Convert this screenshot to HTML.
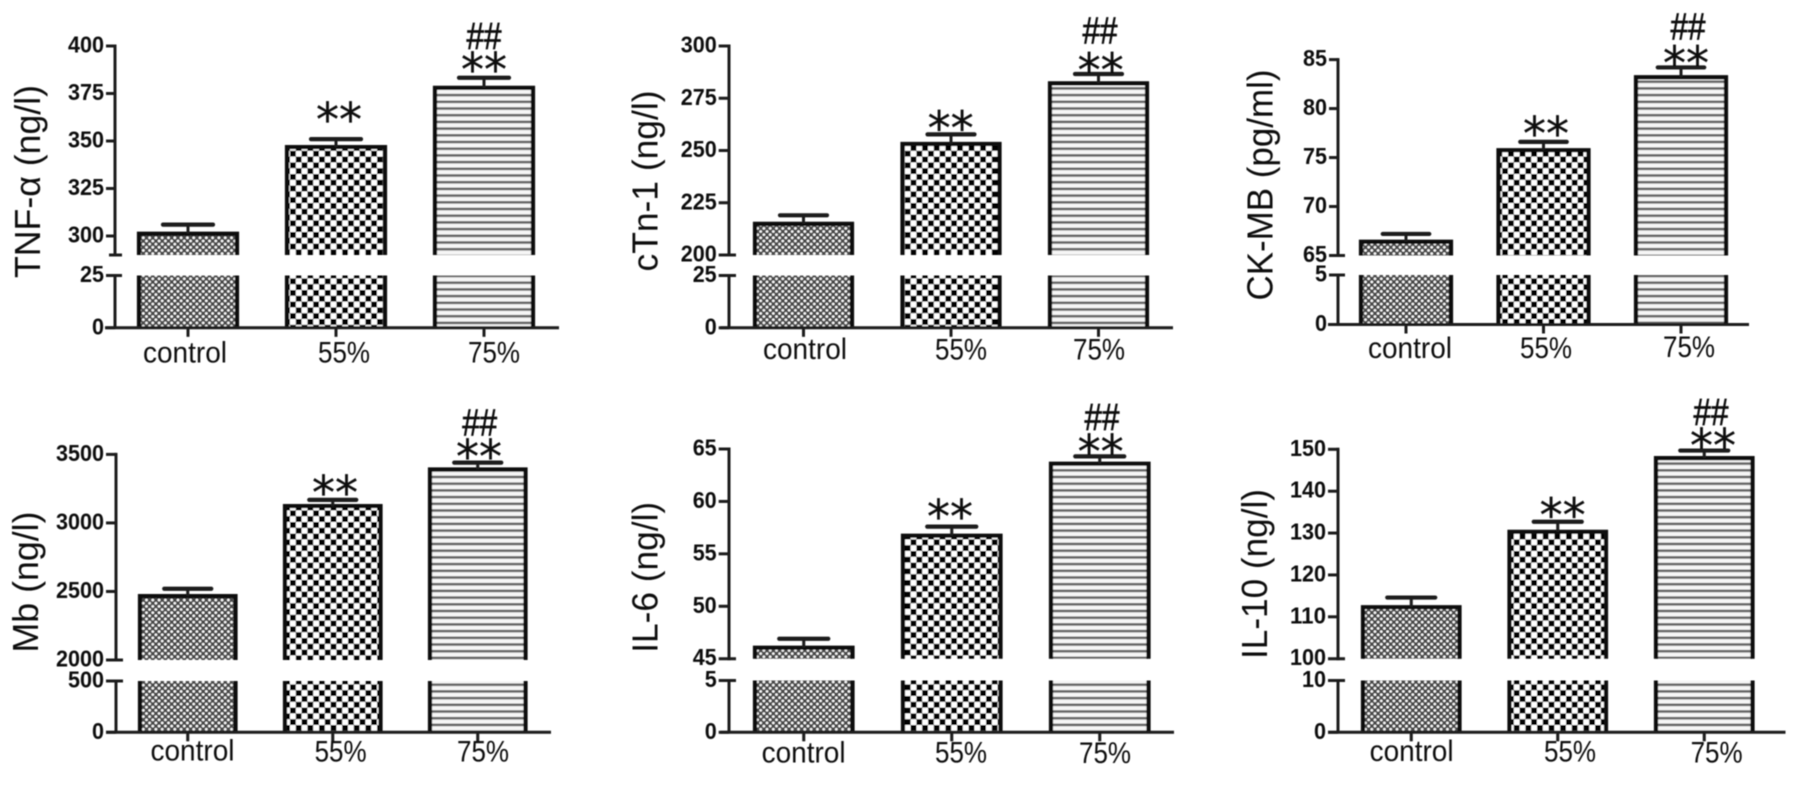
<!DOCTYPE html>
<html lang="en">
<head>
<meta charset="utf-8">
<title>Six broken-axis bar charts</title>
<style>
html,body{margin:0;padding:0;background:#fff;width:1795px;height:805px;overflow:hidden}
svg{display:block}
text{fill:#111}
.tick{font:bold 23px "Liberation Sans",sans-serif;text-anchor:end}
.cat{font:30px "Liberation Sans",sans-serif;text-anchor:middle}
.title{font:36px "Liberation Sans","DejaVu Sans",sans-serif;text-anchor:middle}
.star{font:46px "DejaVu Sans",sans-serif;text-anchor:middle;stroke:#111;stroke-width:.3}
.hash{font:38px "Liberation Sans",sans-serif;text-anchor:middle;stroke:#111;stroke-width:.7}
</style>
</head>
<body>
<svg id="figure" xmlns="http://www.w3.org/2000/svg" width="1795" height="805" viewBox="0 0 1795 805">
  <defs>
    <filter id="soft" x="-2%" y="-2%" width="104%" height="104%"><feGaussianBlur stdDeviation="0.45"/></filter>
    <pattern id="fine-check" patternUnits="userSpaceOnUse" width="6.3" height="6.3">
      <rect width="6.3" height="6.3" fill="#4a4a4a"/>
      <circle cx="1.57" cy="1.57" r="1.35" fill="#fff"/>
      <circle cx="4.72" cy="4.72" r="1.35" fill="#fff"/>
    </pattern>
    <pattern id="coarse-check" patternUnits="userSpaceOnUse" width="11.6" height="11.6">
      <rect width="11.6" height="11.6" fill="#fff"/>
      <rect x="0" y="0" width="5.8" height="5.8" fill="#000"/>
      <rect x="5.8" y="5.8" width="5.8" height="5.8" fill="#000"/>
    </pattern>
    <pattern id="stripes" patternUnits="userSpaceOnUse" width="10" height="6.7">
      <rect width="10" height="6.7" fill="#f6f6f6"/>
      <rect y="0" width="10" height="2.6" fill="#666"/>
    </pattern>
  </defs>
  <rect width="1795" height="805" fill="#fff"/>
  <g id="charts" filter="url(#soft)"></g>
</svg>
<script>
const categories = ['control', '55%', '75%'];
const starLabels = ['', '**', '**'];
const hashLabels = ['', '', '##'];

const tnfValues = [301.2, 346.8, 378];
const tnfErrorTops = [306, 351, 383.3];
const tnfUpperTicks = [300, 325, 350, 375, 400];
const tnfLowerTicks = [0, 25];
const tnfBreakValue = 290;

const ctnValues = [214.9, 253.1, 282.1];
const ctnErrorTops = [219, 257.7, 286.6];
const ctnUpperTicks = [200, 225, 250, 275, 300];
const ctnLowerTicks = [0, 25];
const ctnBreakValue = 200;

const ckValues = [66.4, 75.75, 83.2];
const ckErrorTops = [67.2, 76.6, 84.2];
const ckUpperTicks = [65, 70, 75, 80, 85];
const ckLowerTicks = [0, 5];
const ckBreakValue = 65;

const mbValues = [2466, 3123, 3390];
const mbErrorTops = [2520, 3168, 3440];
const mbUpperTicks = [2000, 2500, 3000, 3500];
const mbLowerTicks = [0, 500];
const mbBreakValue = 2000;

const il6Values = [46.05, 56.73, 63.6];
const il6ErrorTops = [46.9, 57.6, 64.3];
const il6UpperTicks = [45, 50, 55, 60, 65];
const il6LowerTicks = [0, 5];
const il6BreakValue = 45;

const il10Values = [112.3, 130.3, 147.9];
const il10ErrorTops = [114.6, 132.7, 149.7];
const il10UpperTicks = [100, 110, 120, 130, 140, 150];
const il10LowerTicks = [0, 10];
const il10BreakValue = 100;

const panels = [
  {key:'tnf', title:'TNF-α (ng/l)', values:tnfValues, tops:tnfErrorTops, upper:tnfUpperTicks, lower:tnfLowerTicks, brk:tnfBreakValue,
   box:{axisX:115,yTop:46,yBreak:255,yLowTop:275.5,yZero:327.8,xStart:105,xEnd:559,barLeft:137,barStep:148,barW:102,labelRight:104,
        labelX:[185,344,494],labelBase:[362.5,362.5,362.5],titleX:40,titleY:181.5,titleLen:193,capW:54,
        starX:[0,339,484],starGap:[0,26.6,15.2],hashX:[0,0,484],hashGap:[0,0,41.8]}},
  {key:'ctn', title:'cTn-1  (ng/l)', values:ctnValues, tops:ctnErrorTops, upper:ctnUpperTicks, lower:ctnLowerTicks, brk:ctnBreakValue,
   box:{axisX:729,yTop:46,yBreak:255,yLowTop:275.5,yZero:327.8,xStart:720.5,xEnd:1173,barLeft:753,barStep:147.5,barW:101,labelRight:716.7,
        labelX:[805,961,1099],labelBase:[359,359.7,359.7],titleX:657.4,titleY:181,titleLen:181,capW:51,
        starX:[0,950.6,1100.6],starGap:[0,13.5,11.1],hashX:[0,0,1100],hashGap:[0,0,43.5]}},
  {key:'ck', title:'CK-MB (pg/ml)', values:ckValues, tops:ckErrorTops, upper:ckUpperTicks, lower:ckLowerTicks, brk:ckBreakValue,
   box:{axisX:1338,yTop:59.6,yBreak:255.5,yLowTop:275,yZero:324.5,xStart:1328,xEnd:1749,barLeft:1359,barStep:137.5,barW:94,labelRight:1327,
        labelX:[1410,1546,1689],labelBase:[358,358,357],titleX:1272.7,titleY:185,titleLen:231,capW:50.5,
        starX:[0,1546,1686],starGap:[0,15.3,11.6],hashX:[0,0,1688],hashGap:[0,0,41]}},
  {key:'mb', title:'Mb  (ng/l)', values:mbValues, tops:mbErrorTops, upper:mbUpperTicks, lower:mbLowerTicks, brk:mbBreakValue,
   box:{axisX:116,yTop:454.4,yBreak:660,yLowTop:681,yZero:732.3,xStart:106,xEnd:551,barLeft:138,barStep:145,barW:99.5,labelRight:104,
        labelX:[192.5,340.6,483],labelBase:[760.6,761.5,761.5],titleX:38,titleY:582,titleLen:141,capW:51,
        starX:[0,335,479],starGap:[0,14.6,13.2],hashX:[0,0,479.7],hashGap:[0,0,40.3]}},
  {key:'il6', title:'IL-6  (ng/l)', values:il6Values, tops:il6ErrorTops, upper:il6UpperTicks, lower:il6LowerTicks, brk:il6BreakValue,
   box:{axisX:729,yTop:449,yBreak:658.7,yLowTop:680.5,yZero:732.3,xStart:720.5,xEnd:1174,barLeft:753,barStep:148,barW:101.5,labelRight:716.7,
        labelX:[803.6,961,1105],labelBase:[762.3,762.3,763.2],titleX:657.4,titleY:577.3,titleLen:151,capW:53,
        starX:[0,950,1100.6],starGap:[0,17,11.8],hashX:[0,0,1102],hashGap:[0,0,39.5]}},
  {key:'il10', title:'IL-10 (ng/l)', values:il10Values, tops:il10ErrorTops, upper:il10UpperTicks, lower:il10LowerTicks, brk:il10BreakValue,
   box:{axisX:1338,yTop:449.3,yBreak:658.7,yLowTop:680.5,yZero:732.3,xStart:1328,xEnd:1785.5,barLeft:1361,barStep:146.5,barW:100.5,labelRight:1326,
        labelX:[1411.6,1570,1716.6],labelBase:[761,761.5,762.3],titleX:1267,titleY:574,titleLen:170,capW:52,
        starX:[0,1562.6,1713],starGap:[0,13.7,12],hashX:[0,0,1711],hashGap:[0,0,38.6]}}
];

const fills = ['url(#fine-check)', 'url(#coarse-check)', 'url(#stripes)'];
const INK = '#1a1a1a';
const NS = 'http://www.w3.org/2000/svg';
const root = document.getElementById('charts');

function make(parent, tag, attrs, text) {
  const el = document.createElementNS(NS, tag);
  for (const k in attrs) el.setAttribute(k, attrs[k]);
  if (text !== undefined) el.textContent = text;
  parent.appendChild(el);
  return el;
}
function scale(d0, d1, r0, r1) {
  return v => r0 + (v - d0) * (r1 - r0) / (d1 - d0);
}
function line(parent, x1, y1, x2, y2, w, cap) {
  return make(parent, 'line', {x1, y1, x2, y2, stroke: INK, 'stroke-width': w, 'stroke-linecap': cap || 'butt'});
}

panels.forEach(p => {
  const b = p.box;
  const yUp = scale(p.brk, p.upper[p.upper.length - 1], b.yBreak, b.yTop);
  const yLow = scale(0, p.lower[p.lower.length - 1], b.yZero, b.yLowTop);
  const barX = i => b.barLeft + i * b.barStep;
  const barC = i => barX(i) + b.barW / 2;

  const g = make(root, 'g', {});
  
  

  const title = make(g, 'text', {class: 'title', x: b.titleX, y: b.titleY, transform: `rotate(-90 ${b.titleX} ${b.titleY})`, textLength: b.titleLen, lengthAdjust: 'spacingAndGlyphs', 'xml:space': 'preserve'}, p.title);
  
  

  // bars
  p.values.forEach((v, i) => {
    const x0 = barX(i) + 2, x1 = barX(i) + b.barW - 2, yt = yUp(v), cx = barC(i);
    const bar = make(g, 'g', {});
    
    
    make(bar, 'rect', {x: x0, y: yt, width: x1 - x0, height: b.yBreak - yt, fill: fills[i]});
    make(bar, 'rect', {x: x0, y: b.yLowTop, width: x1 - x0, height: b.yZero - b.yLowTop, fill: fills[i]});
    make(bar, 'path', {d: `M${x0} ${b.yBreak}V${yt}H${x1}V${b.yBreak}`, fill: 'none', stroke: '#0c0c0c', 'stroke-width': 4.2});
    make(bar, 'path', {d: `M${x0} ${b.yLowTop}V${b.yZero}M${x1} ${b.yLowTop}V${b.yZero}`, fill: 'none', stroke: '#0c0c0c', 'stroke-width': 4.2});

    const err = make(g, 'g', {});
    
    
    const capY = yUp(p.tops[i]);
    line(err, cx, yt, cx, capY, 3);
    line(err, cx - b.capW / 2 + 2, capY, cx + b.capW / 2 - 2, capY, 4.2, 'round');

    if (starLabels[i]) {
      const s = make(g, 'text', {class: 'star', x: b.starX[i], y: capY - b.starGap[i] + 23.5, textLength: 46, lengthAdjust: 'spacingAndGlyphs'}, starLabels[i]);
      
      
    }
    if (hashLabels[i]) {
      const h = make(g, 'text', {class: 'hash', x: b.hashX[i], y: capY - b.hashGap[i] + 13, textLength: 35, lengthAdjust: 'spacingAndGlyphs'}, hashLabels[i]);
      
      
    }

    line(g, cx, b.yZero, cx, b.yZero + 9, 3);
    const lab = make(g, 'text', {class: 'cat', x: b.labelX[i], y: b.labelBase[i], textLength: i === 0 ? 84 : 52, lengthAdjust: 'spacingAndGlyphs'}, categories[i]);
    
    
  });

  // axes
  const yAxis = make(g, 'g', {});
  
  
  line(yAxis, b.axisX, b.yTop - 1.5, b.axisX, b.yBreak + 1.5, 3);
  line(yAxis, b.axisX, b.yLowTop - 1.5, b.axisX, b.yZero, 3);

  const xAxis = make(g, 'line', {x1: b.xStart, y1: b.yZero, x2: b.xEnd, y2: b.yZero, stroke: INK, 'stroke-width': 3});
  
  

  const drawTick = (v, y) => {
    const isBreak = (v === p.brk) || (v === p.lower[p.lower.length - 1]);
    line(yAxis, b.labelRight + 2, y, isBreak ? b.axisX + 7 : b.axisX, y, 3);
    const t = make(yAxis, 'text', {class: 'tick', x: b.labelRight, y: y + 6.5, textLength: String(v).length * 12, lengthAdjust: 'spacingAndGlyphs'}, String(v));
    
    
  };
  p.upper.forEach(v => drawTick(v, yUp(v)));
  p.lower.forEach(v => drawTick(v, yLow(v)));
  if (p.upper.indexOf(p.brk) < 0) {
    line(yAxis, b.axisX - 6, yUp(p.brk), b.axisX + 7, yUp(p.brk), 3);
  }
});
</script>
</body>
</html>
